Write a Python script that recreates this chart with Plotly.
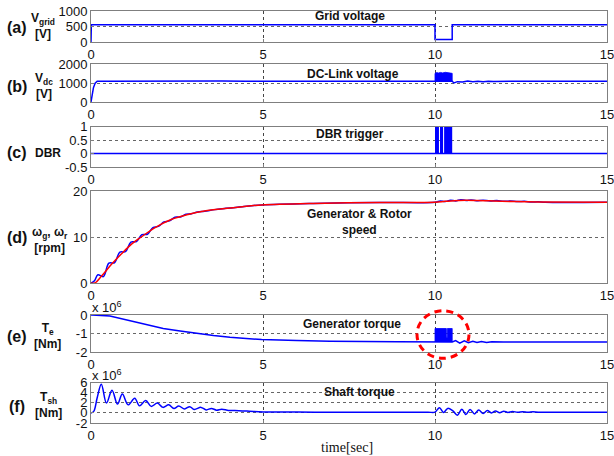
import plotly.graph_objects as go

# ---------------- data ----------------
# (a) grid voltage [V]
vg_t = [0, 0.01, 10.0, 10.0, 10.5, 10.5, 15]
vg_v = [0, 563, 563, 90, 90, 563, 563]

# (b) DC-link voltage [V]
vdc_t = [0, 0.03, 0.07, 0.12, 0.18, 0.5, 1.0, 1.3, 1.6, 2.0, 2.4, 2.8, 3.2, 3.8, 4.5, 5.5, 6.5, 8.0, 9.5,
         10.0, 10.5, 10.55, 10.65, 10.8, 10.95, 11.1, 11.25, 11.4, 11.55, 11.7, 11.85, 12.2, 15]
vdc_v = [0, 400, 750, 1000, 1100, 1100, 1105, 1125, 1105, 1125, 1105, 1120, 1108, 1115, 1105, 1110, 1105, 1105, 1100,
         1100, 1100, 1010, 1080, 1060, 1110, 1070, 1105, 1080, 1105, 1085, 1100, 1100, 1100]
vdc_blk_t = [10.0, 10.0, 10.05, 10.1, 10.16, 10.22, 10.3, 10.36, 10.42, 10.47, 10.5, 10.5]
vdc_blk_v = [1100, 1520, 1560, 1540, 1570, 1545, 1575, 1550, 1565, 1540, 1520, 1100]

# (c) DBR trigger
dbr_t = [0, 15]
dbr_v = [0, 0]
dbr_blk_t = [10.0, 10.0, 10.115, 10.115, 10.145, 10.145, 10.235, 10.235, 10.265, 10.265, 10.5, 10.5]
dbr_blk_v = [0, 1, 1, 0, 0, 1, 1, 0, 0, 1, 1, 0]

# (d) generator & rotor speed [rpm]
wr_t = [0, 0.11, 0.3, 0.59, 0.88, 1.17, 1.46, 1.85, 2.33, 2.82, 3.3, 3.89, 4.4, 4.96, 6.46, 8.4,
        10.0, 10.3, 10.7, 11.2, 11.7, 12.3, 13.0, 15.0]
wr_v = [0, 0, 1.46, 4.0, 6.3, 8.4, 10.0, 12.0, 13.8, 14.9, 15.65, 16.2, 16.6, 16.96, 17.3, 17.5,
        17.55, 17.75, 17.95, 17.95, 17.85, 17.7, 17.6, 17.55]
wg_t = [0, 0.1, 0.2, 0.36, 0.52, 0.68, 0.84, 1.0, 1.16, 1.32, 1.48, 1.64, 1.8, 1.96, 2.12, 2.28, 2.44,
        2.6, 2.76, 2.92, 3.1, 3.3, 3.6, 3.89, 4.4, 4.96, 6.46, 8.4, 10.0, 10.15, 10.3, 10.45, 10.6, 10.75,
        10.9, 11.05, 11.2, 11.4, 11.6, 11.8, 12.0, 12.2, 12.4, 12.6, 12.8, 13.0, 13.2, 15.0]
wg_v = [0, 0.5, 1.8, 1.4, 4.3, 4.4, 6.7, 6.8, 8.9, 9.0, 10.5, 10.6, 12.05, 12.3, 13.25, 13.5, 14.3,
        14.35, 14.95, 15.05, 15.45, 15.6, 15.95, 16.2, 16.6, 16.96, 17.3, 17.5, 17.55, 17.8, 17.7, 18.0, 17.85, 18.1,
        17.95, 18.05, 17.9, 18.0, 17.85, 17.95, 17.75, 17.85, 17.7, 17.75, 17.62, 17.65, 17.55, 17.55]

# (e) generator torque [x1e6 Nm]
te_t = [0, 0.03, 0.55, 0.84, 1.23, 1.62, 2.1, 2.59, 3.07, 3.56, 4.04, 4.96, 5.98, 6.95, 8.9, 9.2, 10.0,
        10.5, 10.6, 10.72, 10.85, 10.97, 11.1, 11.22, 11.35, 11.5, 11.65, 12.0, 15]
te_v = [0, 0, -0.05, -0.18, -0.36, -0.55, -0.73, -0.87, -1.0, -1.11, -1.2, -1.33, -1.38, -1.42, -1.44, -1.45, -1.46,
        -1.46, -1.38, -1.52, -1.40, -1.50, -1.42, -1.49, -1.43, -1.48, -1.45, -1.46, -1.46]
te_blk_t = [10.0, 10.0, 10.33, 10.33, 10.36, 10.36, 10.5, 10.5]
te_blk_v = [-1.46, -0.73, -0.73, -1.2, -1.2, -0.73, -0.73, -1.46]

# (f) shaft torque [x1e6 Nm]
tsh_t = [0, 0.08, 0.18, 0.3, 0.45, 0.61, 0.77, 0.91, 1.08, 1.27, 1.41, 1.59, 1.75, 1.93, 2.09, 2.26, 2.41, 2.55,
         2.72, 2.87, 3.0, 3.2, 3.35, 3.5, 3.65, 3.8, 4.0, 4.3, 4.6, 5.0, 6.0, 7.0, 8.0, 9.0, 9.8, 10.0,
         10.13, 10.25, 10.37, 10.52,
         10.65, 10.78, 10.9, 11.02, 11.15, 11.27, 11.4, 11.52, 11.64, 11.76, 11.88, 12.0, 12.12, 12.25, 12.4,
         12.55, 12.7, 12.85, 13.0, 13.5, 14.0, 15]
tsh_v = [0, 0.3, 3.0, 5.7, 1.95, 4.5, 1.75, 3.75, 1.6, 2.9, 1.4, 2.45, 1.3, 1.95, 1.1, 1.6, 0.9, 1.35,
         0.8, 1.25, 0.7, 1.1, 0.6, 0.9, 0.55, 0.75, 0.5, 0.45, 0.35, 0.2, 0.17, 0.15, 0.15, 0.15, 0.15, 0.15,
         1.05, 0.1, 0.9, 0.4,
         -0.45, 0.75, -0.3, 0.7, -0.2, 0.6, -0.1, 0.5, 0.0, 0.4, 0.05, 0.35, 0.1, 0.3, 0.12,
         0.25, 0.15, 0.22, 0.15, 0.15, 0.15, 0.15]

x_ticks = [0, 5, 10, 15]
y_ticks = {
    1: ([0, 500, 1000], ["0", "500", "1000"], [0, 1000]),
    2: ([0, 1000, 2000], ["0", "1000", "2000"], [0, 2000]),
    3: ([-0.5, 0, 0.5, 1], ["-0.5", "0", "0.5", "1"], [-0.5, 1]),
    4: ([0, 10, 20], ["0", "10", "20"], [0, 20]),
    5: ([-2, -1, 0], ["-2", "-1", "0"], [-2, 0]),
    6: ([-2, 0, 2, 4, 6], ["-2", "0", "2", "4", "6"], [-2, 6]),
}
panel_titles = ["Grid voltage", "DC-Link voltage", "DBR trigger", "Generator & Rotor<br>speed",
                "Generator torque", "Shaft torque"]
panel_letters = ["(a)", "(b)", "(c)", "(d)", "(e)", "(f)"]
panel_units = ["V<sub>grid</sub><br>[V]", "V<sub>dc</sub><br>[V]", "DBR",
               "ω<sub>g</sub>, ω<sub>r</sub><br>[rpm]", "T<sub>e</sub><br>[Nm]", "T<sub>sh</sub><br>[Nm]"]

# ---------------- layout geometry (pixels) ----------------
W, H = 614, 456
L, R, T, B = 91, 7, 11, 33
PW, PH = W - L - R, H - T - B
panel_px = [(11, 42.3), (64.3, 102), (126.7, 167), (191, 283), (315, 352), (382.7, 423)]


def px2x(px):
    return (px - L) / PW


def px2y(py):
    return (H - B - py) / PH


BLUE = "#0000ff"
RED = "#ff0000"
fig = go.Figure()


def add(i, x, y, color=BLUE, width=1.5, shape="linear", fill=None):
    fig.add_trace(go.Scatter(
        x=x, y=y, mode="lines", xaxis=f"x{i}", yaxis=f"y{i}",
        line=dict(color=color, width=width, shape=shape),
        fill=fill, fillcolor=color if fill else None, hoverinfo="skip", showlegend=False))


add(1, vg_t, vg_v)
add(2, vdc_t, vdc_v)
add(2, vdc_blk_t, vdc_blk_v, width=0.8, fill="toself")
add(3, dbr_t, dbr_v)
add(3, dbr_blk_t, dbr_blk_v, width=0, fill="toself")
add(4, wg_t, wg_v, shape="spline")
add(4, wr_t, wr_v, color=RED, shape="spline")
add(5, te_t, te_v)
add(5, te_blk_t, te_blk_v, width=0.8, fill="toself")
add(6, tsh_t, tsh_v, shape="spline")

FRAME = "#7f7f7f"
TICKFONT = dict(family="Liberation Sans, Arial", size=13, color="#111")
layout = dict(width=W, height=H, margin=dict(l=L, r=R, t=T, b=B, autoexpand=False), autosize=False,
              paper_bgcolor="white", plot_bgcolor="white", showlegend=False)
for i in range(1, 7):
    top, bot = panel_px[i - 1]
    tv, tt, rng = y_ticks[i]
    layout[f"xaxis{i}"] = dict(
        domain=[0, 1], anchor=f"y{i}", range=[0, 15], tickvals=x_ticks, ticktext=[str(v) for v in x_ticks],
        showgrid=True, gridcolor="#444", griddash="dot", gridwidth=1, zeroline=False,
        showline=True, linecolor=FRAME, linewidth=1, mirror=True, automargin=False,
        ticklabeloverflow="allow",
        ticks="inside", ticklen=3, tickcolor=FRAME, tickfont=TICKFONT, fixedrange=True)
    layout[f"yaxis{i}"] = dict(
        domain=[px2y(bot), px2y(top)], anchor=f"x{i}", range=rng, tickvals=tv, ticktext=tt,
        showgrid=True, gridcolor="#666", griddash="dot", gridwidth=1, zeroline=False,
        showline=True, linecolor=FRAME, linewidth=1, mirror=True, automargin=False,
        ticklabeloverflow="allow",
        ticks="inside", ticklen=3, tickcolor=FRAME, tickfont=TICKFONT, fixedrange=True)

annotations = []
title_pos = [(350, 16), (353, 74), (350, 134), (359, 222), (352, 324), (359, 392)]
for txt, (px, py) in zip(panel_titles, title_pos):
    annotations.append(dict(text=f"<b>{txt}</b>", x=px2x(px), y=px2y(py), xref="paper", yref="paper",
                            xanchor="center", yanchor="middle", showarrow=False,
                            font=dict(family="Liberation Sans, Arial", size=12, color="#111")))
letter_pos = [27.5, 86, 153, 237, 336, 406]
unit_pos = [(43, 26), (44, 86), (48, 153), (50, 240), (47, 336), (48, 405)]
for let, ly, unit, (ux, uy) in zip(panel_letters, letter_pos, panel_units, unit_pos):
    annotations.append(dict(text=f"<b>{let}</b>", x=px2x(17), y=px2y(ly), xref="paper", yref="paper",
                            xanchor="center", yanchor="middle", showarrow=False,
                            font=dict(family="Liberation Sans, Arial", size=16, color="#111")))
    annotations.append(dict(text=f"<b>{unit}</b>", x=px2x(ux), y=px2y(uy), xref="paper", yref="paper",
                            xanchor="center", yanchor="middle", showarrow=False, align="center",
                            font=dict(family="Liberation Sans, Arial", size=12, color="#111")))
for py in (306.5, 375):
    annotations.append(dict(text="x 10<sup>6</sup>", x=px2x(90), y=px2y(py), xref="paper", yref="paper",
                            xanchor="left", yanchor="middle", showarrow=False,
                            font=dict(family="Liberation Sans, Arial", size=13, color="#111")))
annotations.append(dict(text="time[sec]", x=px2x(347), y=px2y(447), xref="paper", yref="paper",
                        xanchor="center", yanchor="middle", showarrow=False,
                        font=dict(family="Liberation Serif, Times New Roman", size=14, color="#111")))
layout["annotations"] = annotations

layout["shapes"] = [dict(type="circle", xref="paper", yref="paper",
                         x0=px2x(417), x1=px2x(469), y0=px2y(358.3), y1=px2y(310.7),
                         line=dict(color=RED, width=3, dash="7px,5px"), layer="above")]

fig.update_layout(**layout)
fig.write_html("out.html", config={"displayModeBar": False},
               post_script="document.body.style.margin='0';document.body.style.overflow='hidden';")
